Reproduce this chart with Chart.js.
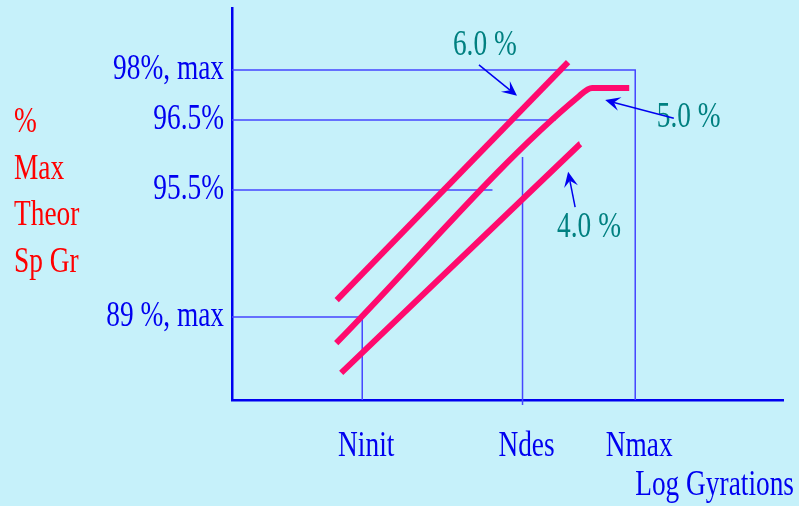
<!DOCTYPE html>
<html>
<head>
<meta charset="utf-8">
<script src="https://cdn.jsdelivr.net/npm/chart.js@4.4.1/dist/chart.umd.min.js"></script>
<style>
  html, body { margin: 0; padding: 0; background: #c6f1fa; }
  canvas { display: block; }
</style>
</head>
<body>
<canvas id="chart" width="799" height="506"></canvas>
<script>
// schematic units: x = log gyrations, y = position on the %Gmm scale
var xTickLabels = ['Ninit', 'Ndes', 'Nmax'];
var xTickValues = [26, 58, 80.5];
var yTickLabels = ['98%, max', '96.5%', '95.5%', '89 %, max'];
var yTickValues = [84.2, 71.4, 53.6, 21.2];
var yTitle = ['%', 'Max', 'Theor', 'Sp Gr'];
var xTitle = 'Log Gyrations';

// densification curves for 6.0 %, 5.0 % and 4.0 % binder
var line6 = [{x: 20.9, y: 25.5}, {x: 67.1, y: 86.2}];
var line5 = [{x: 20.8, y: 14.5}, {x: 69.1, y: 77.3}, {x: 71.9, y: 79.6}, {x: 79.3, y: 79.6}];
var line4 = [{x: 21.8, y: 6.9}, {x: 69.5, y: 65.3}];

// thin guide lines from the criteria to the N values
var guide98 = [{x: 0, y: 84.2}, {x: 80.5, y: 84.2}, {x: 80.5, y: 0}];
var guide965 = [{x: 0, y: 71.4}, {x: 64.6, y: 71.4}];
var guide955 = [{x: 0, y: 53.6}, {x: 52, y: 53.6}];
var guide89 = [{x: 0, y: 21.2}, {x: 26, y: 21.2}, {x: 26, y: 0}];
var guideNdes = [{x: 58, y: 62}, {x: 58, y: -1.3}];

var noteLabels = ['6.0 %', '5.0 %', '4.0 %'];
var noteAt = [{x: 44.1, y: 88}, {x: 84.8, y: 69.6}, {x: 64.9, y: 41.6}];
var arrowFrom = [{x: 49.3, y: 85.5}, {x: 88.2, y: 71.9}, {x: 68.5, y: 49.2}];
var arrowTo = [{x: 56.9, y: 77.6}, {x: 74.5, y: 76.5}, {x: 67.1, y: 58.2}];

var FONT = '36px "Liberation Serif", "Times New Roman", serif';
var SQUEEZE = 0.76;
var BLUE = '#0000f0';
var GUIDE = '#4646ff';
var PINK = '#ff0a6e';

function drawText(ctx, text, x, y, align, color) {
  ctx.save();
  ctx.translate(x, y);
  ctx.scale(SQUEEZE, 1);
  ctx.font = FONT;
  ctx.fillStyle = color;
  ctx.textAlign = align;
  ctx.textBaseline = 'alphabetic';
  ctx.fillText(text, 0, 0);
  ctx.restore();
}

function drawArrow(ctx, x1, y1, x2, y2) {
  var ang = Math.atan2(y2 - y1, x2 - x1);
  var len = 15, half = 7;
  ctx.save();
  ctx.strokeStyle = BLUE;
  ctx.fillStyle = BLUE;
  ctx.lineWidth = 1.5;
  ctx.beginPath();
  ctx.moveTo(x1, y1);
  ctx.lineTo(x2 - Math.cos(ang) * len * 0.6, y2 - Math.sin(ang) * len * 0.6);
  ctx.stroke();
  ctx.translate(x2, y2);
  ctx.rotate(ang);
  ctx.beginPath();
  ctx.moveTo(0, 0);
  ctx.lineTo(-len, -half);
  ctx.lineTo(-len * 0.6, 0);
  ctx.lineTo(-len, half);
  ctx.closePath();
  ctx.fill();
  ctx.restore();
}

var labelsPlugin = {
  id: 'labels',
  afterDraw: function (chart) {
    var ctx = chart.ctx;
    var xs = chart.scales.x, ys = chart.scales.y;
    var area = chart.chartArea;

    yTickLabels.forEach(function (t, i) {
      drawText(ctx, t, area.left - 8, ys.getPixelForValue(yTickValues[i]) + 9, 'right', BLUE);
    });
    xTickLabels.forEach(function (t, i) {
      drawText(ctx, t, xs.getPixelForValue(xTickValues[i]) + 4, area.bottom + 56, 'center', BLUE);
    });
    drawText(ctx, xTitle, 794, 495, 'right', BLUE);
    yTitle.forEach(function (t, i) {
      drawText(ctx, t, 14, 132 + i * 46.5, 'left', '#ff0000');
    });

    noteLabels.forEach(function (t, i) {
      drawText(ctx, t, xs.getPixelForValue(noteAt[i].x), ys.getPixelForValue(noteAt[i].y), 'left', '#008080');
    });
    arrowFrom.forEach(function (p, i) {
      drawArrow(ctx,
        xs.getPixelForValue(p.x), ys.getPixelForValue(p.y),
        xs.getPixelForValue(arrowTo[i].x), ys.getPixelForValue(arrowTo[i].y));
    });
  }
};

function guide(data) {
  return { data: data, borderColor: GUIDE, borderWidth: 1.5, pointRadius: 0, clip: false, order: 2 };
}
function curve(data) {
  return { data: data, borderColor: PINK, borderWidth: 6, pointRadius: 0,
    cubicInterpolationMode: 'monotone', borderJoinStyle: 'round', order: 1 };
}

var chart = new Chart('chart', {
  type: 'line',
  data: {
    datasets: [
      guide(guide98), guide(guide965), guide(guide955), guide(guide89), guide(guideNdes),
      curve(line6), curve(line5), curve(line4)
    ]
  },
  options: {
    responsive: false,
    animation: false,
    layout: { padding: { left: 232, right: 16, top: 8, bottom: 106 } },
    plugins: { legend: { display: false }, tooltip: { enabled: false } },
    scales: {
      x: {
        type: 'linear', min: 0, max: 110,
        grid: { display: false, drawTicks: false },
        ticks: { display: false },
        border: { color: BLUE, width: 2.5 }
      },
      y: {
        type: 'linear', min: 0, max: 100,
        grid: { display: false, drawTicks: false },
        ticks: { display: false },
        border: { color: BLUE, width: 2.5 }
      }
    }
  },
  plugins: [labelsPlugin]
});
</script>
</body>
</html>
